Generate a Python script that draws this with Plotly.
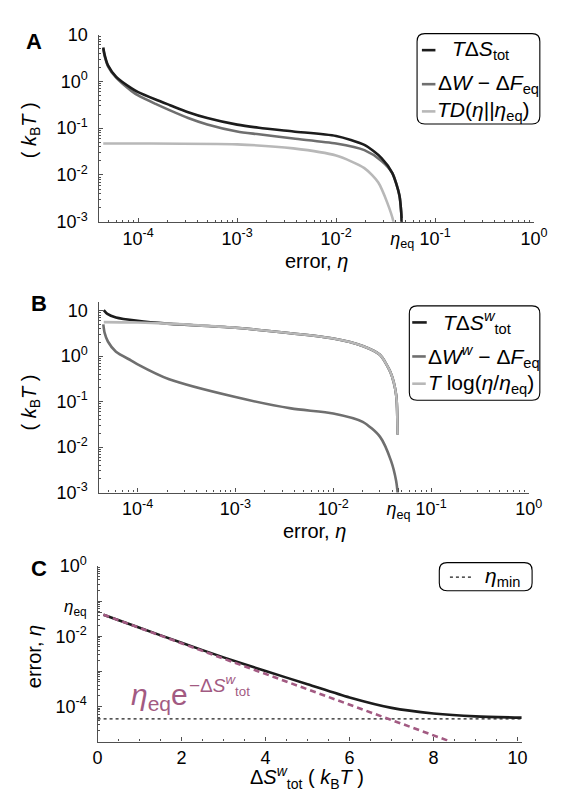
import plotly.graph_objects as go

W, H = 570, 798
ETA_EQ = 0.0466
ETA_MIN = 4.4e-5

# ---------------- Panel A data (error eta, energy in kBT) ----------------
a_tot_eta = [4.44e-5, 4.6e-5, 4.96e-5, 6.0e-5, 8.6e-5, 1.0e-4, 1.5e-4, 2.1e-4, 3.2e-4, 5e-4, 1e-3,
             1.66e-3, 3.7e-3, 1e-2, 1.93e-2, 2.88e-2, 3.7e-2, 4.36e-2, 4.55e-2, 4.62e-2]
a_tot_val = [5.3, 3.6, 2.19, 1.25, 0.71, 0.59, 0.41, 0.31, 0.22, 0.165, 0.119,
             0.102, 0.085, 0.068, 0.044, 0.023, 0.011, 0.0037, 0.0016, 0.0008]
a_work_eta = [4.44e-5, 4.6e-5, 4.96e-5, 6.0e-5, 8.6e-5, 1e-4, 1.5e-4, 2.1e-4, 3.2e-4, 5e-4, 1e-3,
              1.66e-3, 3.7e-3, 1e-2, 1.93e-2, 2.88e-2, 3.7e-2, 4.36e-2, 4.55e-2, 4.62e-2]
a_work_val = [5.0, 3.4, 2.1, 1.2, 0.62, 0.50, 0.33, 0.24, 0.165, 0.12, 0.085,
              0.074, 0.060, 0.047, 0.034, 0.020, 0.011, 0.0037, 0.0016, 0.0008]
a_kl_eta = [4.44e-5, 1e-4, 1e-3, 3.7e-3, 1e-2, 1.93e-2, 2.67e-2, 3.28e-2, 3.8e-2, 3.9e-2]
a_kl_val = [0.047, 0.047, 0.045, 0.037, 0.026, 0.014, 0.0069, 0.0026, 0.001, 0.0006]

# ---------------- Panel B data ----------------
b_tot_eta = [4.5e-5, 4.9e-5, 6.0e-5, 1e-4, 2e-4, 1e-3, 1e-2, 2.0e-2, 3.0e-2, 3.85e-2, 4.4e-2, 4.55e-2]
b_tot_val = [10.3, 8.5, 7.1, 6.0, 5.2, 4.2, 2.45, 1.68, 1.07, 0.44, 0.14, 0.019]
b_log_eta = [4.5e-5, 1e-4, 2e-4, 1e-3, 1e-2, 2.0e-2, 3.0e-2, 3.85e-2, 4.4e-2, 4.55e-2]
b_log_val = [5.6, 5.5, 5.2, 4.2, 2.45, 1.68, 1.07, 0.44, 0.14, 0.019]
b_work_eta = [4.45e-5, 4.6e-5, 4.96e-5, 6.0e-5, 8.6e-5, 1e-4, 2.1e-4, 1e-3, 3.7e-3, 1e-2,
              2.0e-2, 3.0e-2, 3.9e-2, 4.4e-2, 4.66e-2]
b_work_val = [5.0, 3.2, 2.1, 1.25, 0.8, 0.66, 0.31, 0.126, 0.071, 0.055,
              0.036, 0.017, 0.005, 0.0018, 0.0006]

# ---------------- Panel C data ----------------
c_s = [0.14, 1, 2, 3, 4, 5, 6, 7, 8, 9, 10.1]
c_eta = [0.041, 0.0174, 0.0065, 0.0025, 0.00102, 4.3e-4, 1.8e-4, 9.1e-5, 6.3e-5, 5.2e-5, 4.8e-5]
c_bound_s = [0.14, 8.4]
c_bound_eta = [0.041, 1.0e-5]
c_min_s = [0.0, 10.1]
c_min_eta = [ETA_MIN, ETA_MIN]

# tick labels
a_xticks = [1e-4, 1e-3, 1e-2, ETA_EQ, 1e-1, 1]
a_xtext = ["10<sup>-4</sup>", "10<sup>-3</sup>", "10<sup>-2</sup>", "<i>η</i><sub>eq</sub>",
           "10<sup>-1</sup>", "10<sup>0</sup>"]
a_yticks = [1e-3, 1e-2, 1e-1, 1, 10]
a_ytext = ["10<sup>-3</sup>", "10<sup>-2</sup>", "10<sup>-1</sup>", "10<sup>0</sup>", "10"]
c_yticks = [1e-5, 1e-4, 1e-3, 1e-2, ETA_EQ, 1e-1, 1]
c_ytext = ["", "10<sup>-4</sup>", "", "10<sup>-2</sup>", "", "", "10<sup>0</sup>"]
c_eq_label = "<i>η</i><sub>eq</sub>"
c_xticks = [0, 2, 4, 6, 8, 10]

BLACK = "#1c1c1c"
DARK = "#6f6f6f"
LIGHT = "#b8b8b8"
PURPLE = "#a25a82"
AXIS = "#505050"
FONT = "Liberation Sans, Arial, sans-serif"


def px(x):
    return x / W


def py(y):
    return 1 - y / H


fig = go.Figure()


def add(x, y, color, xa, ya, width=2.6, dash=None, spline=True):
    fig.add_trace(go.Scatter(
        x=x, y=y, mode="lines", xaxis=xa, yaxis=ya, showlegend=False, hoverinfo="skip",
        line=dict(color=color, width=width, dash=dash,
                  shape="spline" if spline else "linear", smoothing=0.7)))


# Panel A
add(a_kl_eta, a_kl_val, LIGHT, "x", "y")
add(a_work_eta, a_work_val, DARK, "x", "y")
add(a_tot_eta, a_tot_val, BLACK, "x", "y")
# Panel B
add(b_tot_eta, b_tot_val, BLACK, "x2", "y2")
add(b_log_eta, b_log_val, LIGHT, "x2", "y2")
add(b_work_eta, b_work_val, DARK, "x2", "y2")
# Panel C
add(c_min_s, c_min_eta, BLACK, "x3", "y3", width=1.3, dash="dot", spline=False)
add(c_s, c_eta, BLACK, "x3", "y3")
add(c_bound_s, c_bound_eta, PURPLE, "x3", "y3", width=2.6, dash="6px,4px", spline=False)


def minor_log(lo, hi):
    return [k * 10 ** d for d in range(lo, hi) for k in range(2, 10)]


tickfont = dict(family=FONT, size=18, color="black")


def axis(domain, anchor, **kw):
    d = dict(domain=domain, anchor=anchor, showgrid=False, zeroline=False,
             showline=True, linecolor=AXIS, linewidth=1.4,
             ticks="inside", ticklen=4, tickwidth=1, tickcolor=AXIS,
             tickfont=tickfont)
    d.update(kw)
    return d


minor_style = dict(ticks="inside", ticklen=2, tickwidth=0.8, tickcolor=AXIS, showgrid=False)

fig.update_layout(
    width=W, height=H, margin=dict(l=0, r=0, t=0, b=0),
    paper_bgcolor="white", plot_bgcolor="white",
    xaxis=axis([px(88.5), px(539)], "y", type="log", range=[-4.40, 0],
               tickmode="array", tickvals=a_xticks, ticktext=a_xtext,
               minor=dict(tickmode="array", tickvals=minor_log(-5, 0), **minor_style)),
    yaxis=axis([py(207.5), py(15)], "x", type="log", range=[-3, 1],
               tickmode="array", tickvals=a_yticks, ticktext=a_ytext, ticklabelstandoff=6,
               minor=dict(tickmode="array", tickvals=minor_log(-3, 1), **minor_style)),
    xaxis2=axis([px(88.5), px(533.6)], "y2", type="log", range=[-4.40, 0],
                tickmode="array", tickvals=a_xticks, ticktext=a_xtext,
                minor=dict(tickmode="array", tickvals=minor_log(-5, 0), **minor_style)),
    yaxis2=axis([py(486), py(290.5)], "x2", type="log", range=[-3, 1.18],
                tickmode="array", tickvals=a_yticks, ticktext=a_ytext, ticklabelstandoff=6,
                minor=dict(tickmode="array", tickvals=minor_log(-3, 2), **minor_style)),
    xaxis3=axis([px(87.5), px(526.3)], "y3", range=[0, 10.1],
                tickmode="array", tickvals=c_xticks,
                minor=dict(dtick=0.5, tick0=0, **minor_style)),
    yaxis3=axis([py(742), py(561.5)], "x3", type="log", range=[-5, 0],
                tickmode="array", tickvals=c_yticks, ticktext=c_ytext, ticklabelstandoff=6,
                minor=dict(tickmode="array", tickvals=minor_log(-5, 0), **minor_style)),
)

ann = []


def text(x, y, s, size=20, color="black", xanchor="center", angle=0, family=FONT):
    ann.append(dict(x=px(x), y=py(y), xref="paper", yref="paper", text=s, showarrow=False,
                    xanchor=xanchor, yanchor="middle", textangle=angle, borderpad=0,
                    font=dict(family=family, size=size, color=color)))


# panel letters
text(22, 22, "<b>A</b>", size=22)
text(27, 292, "<b>B</b>", size=22)
text(27, 564, "<b>C</b>", size=22)

# axis titles
text(18, 113, "( <i>k</i><sub>B</sub><i>T</i> )", angle=-90)
text(314, 248, "error, <i>η</i>")
text(18, 393, "( <i>k</i><sub>B</sub><i>T</i> )", angle=-90)
text(312, 526, "error, <i>η</i>")
text(22, 655, "error, <i>η</i>", angle=-90)
text(304, 779, "Δ<i>S</i><sup><i>w</i></sup><sub>tot</sub> ( <i>k</i><sub>B</sub><i>T</i> )")

# eta_eq label on the C y axis (placed just above its tick so it clears 10^-2)
text(78, 605, c_eq_label, size=17, xanchor="right")

# purple annotation in C
text(121, 696, "<i>η</i><sub>eq</sub>e", size=30, color=PURPLE, xanchor="left")
text(181, 684, "−Δ<i>S</i><sup><i>w</i></sup><sub>tot</sub>", size=19, color=PURPLE, xanchor="left")

shapes = []


def rounded_box(x0, y0, x1, y1, r=8):
    rx, ry = r / W, r / H
    X0, X1 = px(x0), px(x1)
    Y0, Y1 = py(y1), py(y0)  # bottom, top in paper
    path = (f"M {X0+rx},{Y0} L {X1-rx},{Y0} Q {X1},{Y0} {X1},{Y0+ry} "
            f"L {X1},{Y1-ry} Q {X1},{Y1} {X1-rx},{Y1} L {X0+rx},{Y1} "
            f"Q {X0},{Y1} {X0},{Y1-ry} L {X0},{Y0+ry} Q {X0},{Y0} {X0+rx},{Y0} Z")
    shapes.append(dict(type="path", path=path, xref="paper", yref="paper",
                       line=dict(color="black", width=1.1), fillcolor="white"))


def sample(x0, x1, y, color, width=2.6, dash=None):
    shapes.append(dict(type="line", xref="paper", yref="paper", x0=px(x0), x1=px(x1),
                       y0=py(y), y1=py(y), line=dict(color=color, width=width, dash=dash)))


# legend A
rounded_box(418, 14, 545, 107)
sample(423, 437, 31, BLACK)
text(453, 31, "<i>T</i>Δ<i>S</i><sub>tot</sub>", size=21, xanchor="left")
sample(423, 437, 66, DARK)
text(439, 66, "Δ<i>W</i> − Δ<i>F</i><sub>eq</sub>", size=21, xanchor="left")
sample(423, 437, 94, LIGHT)
text(438, 94, "<i>TD</i>(<i>η</i>||<i>η</i><sub>eq</sub>)", size=21, xanchor="left")

# legend B
rounded_box(410, 294, 545, 391)
sample(413, 428, 311, BLACK)
text(444, 311, "<i>T</i>Δ<i>S</i><sup><i>w</i></sup><sub>tot</sub>", size=21, xanchor="left")
sample(413, 427, 346, DARK)
text(428, 346, "Δ<i>W</i><sup><i>w</i></sup> − Δ<i>F</i><sub>eq</sub>", size=21, xanchor="left")
sample(413, 427, 374, LIGHT)
text(428, 374, "<i>T</i> log(<i>η</i>/<i>η</i><sub>eq</sub>)", size=21, xanchor="left")

# legend C
rounded_box(441, 558, 537, 587)
sample(452, 474, 573, BLACK, width=1.3, dash="dot")
text(487, 573, "<i>η</i><sub>min</sub>", size=21, xanchor="left")

fig.update_layout(annotations=ann, shapes=shapes)
fig.write_html("out.html")
